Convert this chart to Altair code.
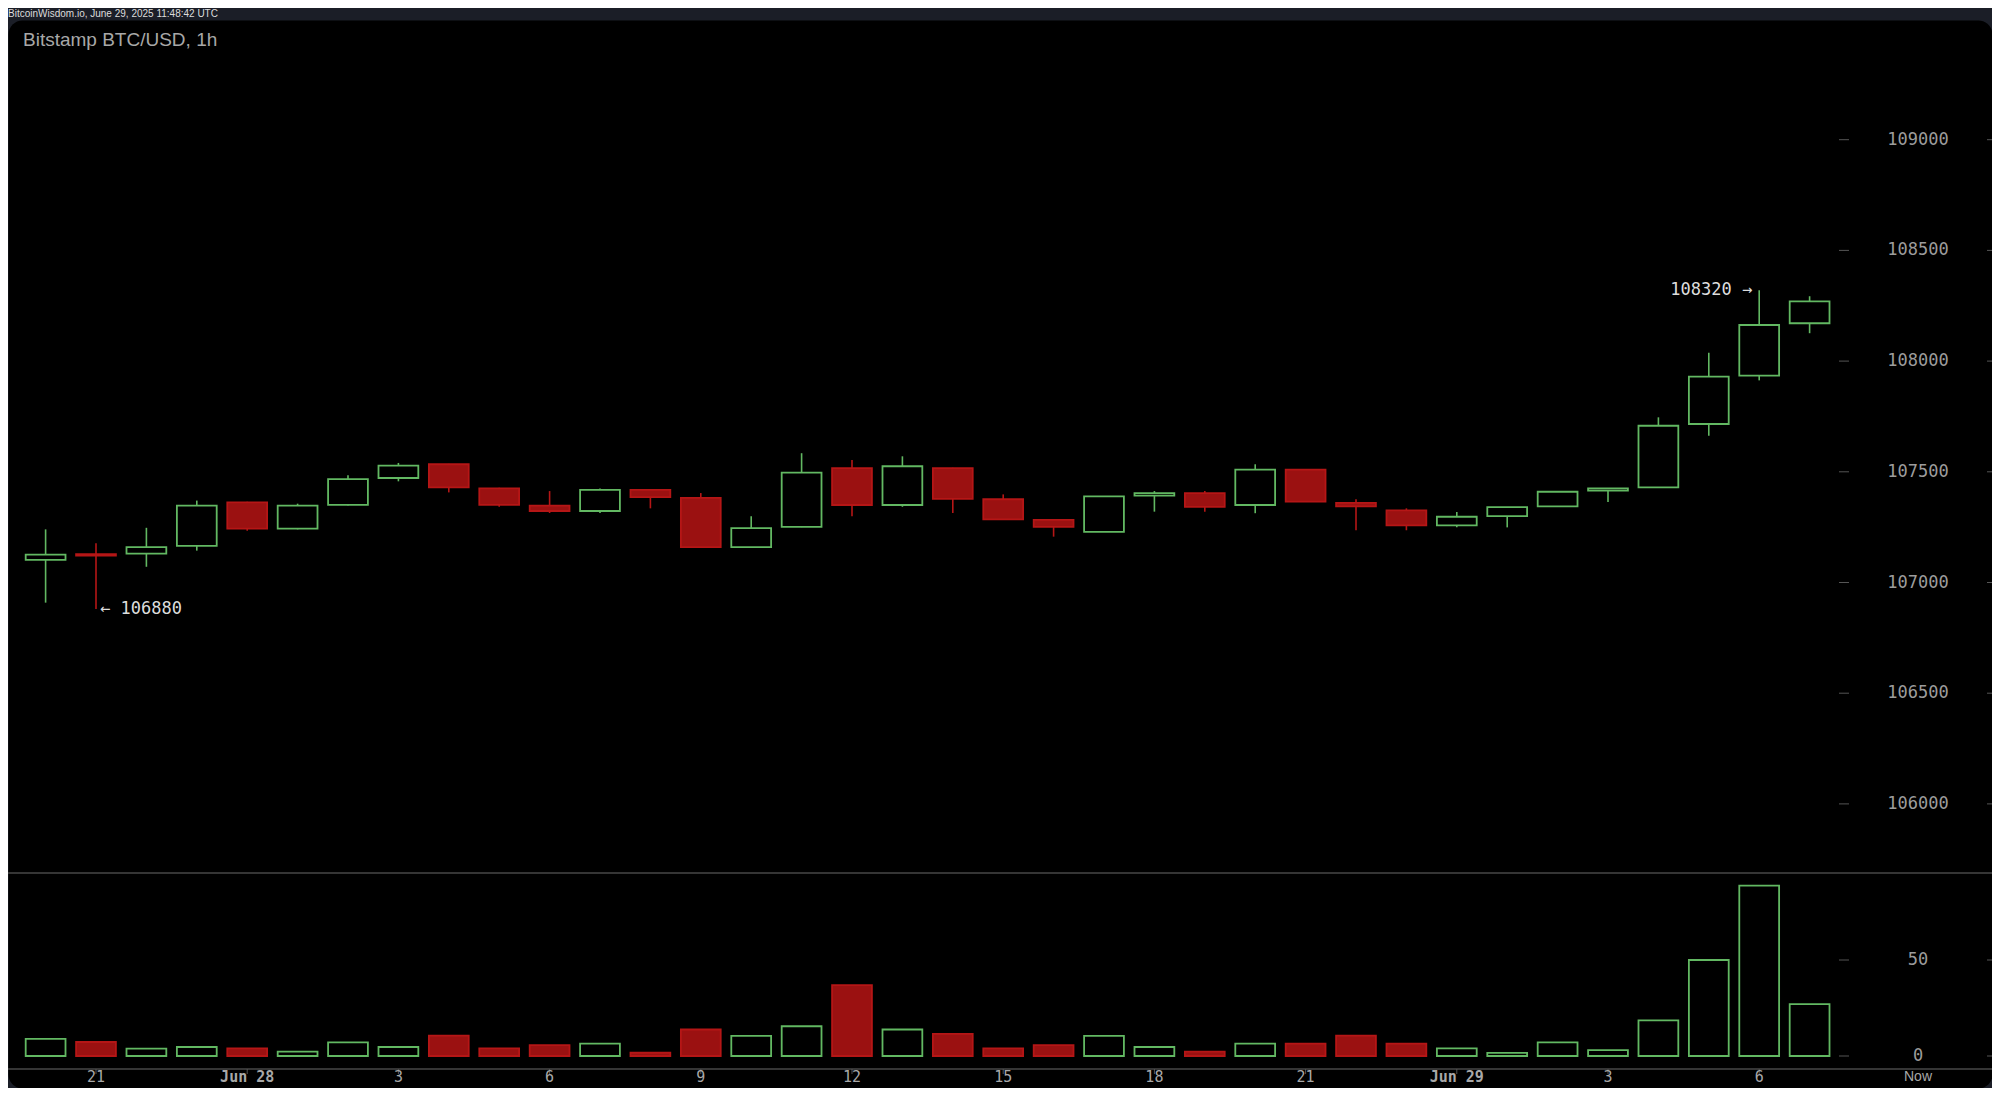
import altair as alt
import pandas as pd

# ---------------- data (hourly candles, Jun 27 20:00 -> Jun 29 07:00 UTC) ----------------
hours = list(range(36))
opens = [107102, 107128, 107130, 107165, 107362, 107243, 107351, 107472, 107534, 107425,
         107347, 107323, 107418, 107382, 107160, 107251, 107517, 107350, 107517, 107376,
         107283, 107229, 107392, 107404, 107350, 107510, 107360, 107326, 107258, 107300,
         107344, 107415, 107430, 107716, 107934, 108171]
highs = [107240, 107177, 107247, 107370, 107365, 107356, 107484, 107540, 107536, 107428,
         107413, 107425, 107420, 107404, 107299, 107584, 107553, 107570, 107518, 107398,
         107285, 107389, 107413, 107413, 107534, 107510, 107376, 107335, 107318, 107340,
         107410, 107427, 107746, 108038, 108320, 108293]
lows = [106909, 106880, 107071, 107144, 107234, 107240, 107348, 107457, 107407, 107342,
        107314, 107314, 107335, 107157, 107157, 107250, 107299, 107342, 107314, 107285,
        107207, 107229, 107320, 107320, 107313, 107365, 107236, 107236, 107249, 107249,
        107344, 107364, 107430, 107663, 107913, 108126]
closes = [107126, 107122, 107160, 107347, 107243, 107347, 107467, 107528, 107430, 107351,
          107323, 107418, 107386, 107160, 107246, 107496, 107350, 107525, 107378, 107285,
          107251, 107389, 107404, 107342, 107510, 107365, 107344, 107258, 107297, 107340,
          107410, 107425, 107708, 107930, 108163, 108270]
volumes = [8.9, 7.3, 3.8, 4.7, 4.0, 2.3, 7.1, 4.7, 10.6, 4.0,
           5.7, 6.4, 1.7, 13.8, 10.5, 15.5, 36.9, 13.8, 11.5, 4.0,
           5.7, 10.5, 4.7, 2.3, 6.4, 6.4, 10.6, 6.4, 4.0, 1.6,
           7.1, 3.1, 18.6, 50.0, 88.7, 27.0]

price_ticks = [106000, 106500, 107000, 107500, 108000, 108500, 109000]
volume_ticks = [0, 50]
x_tick_pos = [1, 4, 7, 10, 13, 16, 19, 22, 25, 28, 31, 34]
x_tick_labels = ["21", "Jun 28", "3", "6", "9", "12", "15", "18", "21", "Jun 29", "3", "6"]

header_text = "BitcoinWisdom.io, June 29, 2025 11:48:42 UTC"
title_text = "Bitstamp BTC/USD, 1h"

# ---------------- styling ----------------
W, H = 1984, 1068
GREEN = "#62b862"
RED_FILL = "#9b1111"
RED_STROKE = "#b51616"
AXIS_TXT = "#9c9c9c"
TICK_C = "#555555"
MONO = "DejaVu Sans Mono"

X_SCALE = alt.Scale(domain=[-0.746, 38.619], nice=False, zero=False)
P_SCALE = alt.Scale(domain=[106000, 109000], range=[783.9, 119.7], nice=False, zero=False)
V_SCALE = alt.Scale(domain=[0, 50], range=[1036, 940], nice=False, zero=False)
FILL_SCALE = alt.Scale(domain=["up", "down"], range=["#000000", RED_FILL])
STROKE_SCALE = alt.Scale(domain=["up", "down"], range=[GREEN, RED_STROKE])

df = pd.DataFrame(dict(i=hours, open=opens, high=highs, low=lows, close=closes, vol=volumes))
df["dir"] = ["up" if c >= o else "down" for o, c in zip(opens, closes)]
df["xl"] = df["i"] - 0.395
df["xr"] = df["i"] + 0.395

base = alt.Chart(df)

wicks = base.mark_rule(strokeWidth=1.6).encode(
    x=alt.X("i:Q", scale=X_SCALE, axis=None),
    y=alt.Y("low:Q", scale=P_SCALE, axis=None),
    y2="high:Q",
    stroke=alt.Stroke("dir:N", scale=STROKE_SCALE, legend=None),
)

bodies = base.mark_rect(strokeWidth=1.8).encode(
    x=alt.X("xl:Q", scale=X_SCALE, axis=None),
    x2="xr:Q",
    y=alt.Y("open:Q", scale=P_SCALE, axis=None),
    y2="close:Q",
    fill=alt.Fill("dir:N", scale=FILL_SCALE, legend=None),
    stroke=alt.Stroke("dir:N", scale=STROKE_SCALE, legend=None),
)

vbars = base.mark_rect(strokeWidth=1.8).encode(
    x=alt.X("xl:Q", scale=X_SCALE, axis=None),
    x2="xr:Q",
    y=alt.Y("vol:Q", scale=V_SCALE, axis=None),
    y2=alt.datum(0),
    fill=alt.Fill("dir:N", scale=FILL_SCALE, legend=None),
    stroke=alt.Stroke("dir:N", scale=STROKE_SCALE, legend=None),
)

# price axis (right)
pdf = pd.DataFrame({"p": price_ticks, "label": [str(v) for v in price_ticks]})
p_labels = alt.Chart(pdf).mark_text(align="center", baseline="middle", font=MONO,
                                    fontSize=17, color=AXIS_TXT).encode(
    x=alt.value(1910), y=alt.Y("p:Q", scale=P_SCALE, axis=None), text="label:N")
p_tick_l = alt.Chart(pdf).mark_rule(color=TICK_C, strokeWidth=1).encode(
    x=alt.value(1831), x2=alt.value(1841), y=alt.Y("p:Q", scale=P_SCALE, axis=None))
p_tick_r = alt.Chart(pdf).mark_rule(color=TICK_C, strokeWidth=1).encode(
    x=alt.value(1979), x2=alt.value(1984), y=alt.Y("p:Q", scale=P_SCALE, axis=None))

# volume axis (right)
vdf = pd.DataFrame({"v": volume_ticks, "label": [str(v) for v in volume_ticks]})
v_labels = alt.Chart(vdf).mark_text(align="center", baseline="middle", font=MONO,
                                    fontSize=17, color=AXIS_TXT).encode(
    x=alt.value(1910), y=alt.Y("v:Q", scale=V_SCALE, axis=None), text="label:N")
v_tick_l = alt.Chart(vdf).mark_rule(color=TICK_C, strokeWidth=1).encode(
    x=alt.value(1831), x2=alt.value(1841), y=alt.Y("v:Q", scale=V_SCALE, axis=None))
v_tick_r = alt.Chart(vdf).mark_rule(color=TICK_C, strokeWidth=1).encode(
    x=alt.value(1979), x2=alt.value(1984), y=alt.Y("v:Q", scale=V_SCALE, axis=None))

# time axis (bottom)
XLAB_Y = 1057
xdf = pd.DataFrame({"i": x_tick_pos, "label": x_tick_labels})
xdf["day"] = xdf["label"].str.startswith("Jun")
x_hour_labels = alt.Chart(xdf[~xdf["day"]]).mark_text(
    baseline="middle", font=MONO, fontSize=15, color="#a8a8a8").encode(
    x=alt.X("i:Q", scale=X_SCALE, axis=None), y=alt.value(XLAB_Y), text="label:N")
x_day_labels = alt.Chart(xdf[xdf["day"]]).mark_text(
    baseline="middle", font=MONO, fontSize=15, fontWeight="bold", color="#a8a8a8").encode(
    x=alt.X("i:Q", scale=X_SCALE, axis=None), y=alt.value(XLAB_Y), text="label:N")
x_ticks = alt.Chart(xdf).mark_rule(color=TICK_C, strokeWidth=1).encode(
    x=alt.X("i:Q", scale=X_SCALE, axis=None), y=alt.value(1049), y2=alt.value(1054))
now_label = alt.Chart(pd.DataFrame({"t": ["Now"]})).mark_text(
    baseline="middle", font="Liberation Sans", fontSize=14, color="#a8a8a8").encode(
    x=alt.value(1910), y=alt.value(XLAB_Y), text="t:N")

# panel separators
sep_df = pd.DataFrame({"k": ["a"]})
sep_mid = alt.Chart(sep_df).mark_rule(color="#474747", strokeWidth=1.5).encode(
    x=alt.value(0), x2=alt.value(W), y=alt.value(853))
sep_bot = alt.Chart(sep_df).mark_rule(color="#474747", strokeWidth=1.5).encode(
    x=alt.value(0), x2=alt.value(W), y=alt.value(1049))

# titles
header = alt.Chart(pd.DataFrame({"t": [header_text]})).mark_text(
    align="left", baseline="middle", font="Liberation Sans", fontSize=10, color="#dcdcdc").encode(
    x=alt.value(0), y=alt.value(-6), text="t:N")
title = alt.Chart(pd.DataFrame({"t": [title_text]})).mark_text(
    align="left", baseline="middle", font="Liberation Sans", fontSize=19, color="#a8a8a8").encode(
    x=alt.value(15), y=alt.value(20), text="t:N")

# high / low annotations
i_lo = lows.index(min(lows))
i_hi = highs.index(max(highs))
lo_df = pd.DataFrame({"i": [i_lo], "p": [lows[i_lo]], "t": ["\u2190 " + str(lows[i_lo])]})
hi_df = pd.DataFrame({"i": [i_hi], "p": [highs[i_hi]], "t": [str(highs[i_hi]) + " \u2192"]})
lo_ann = alt.Chart(lo_df).mark_text(align="left", baseline="middle", dx=4, font=MONO,
                                    fontSize=17, color="#dddddd").encode(
    x=alt.X("i:Q", scale=X_SCALE, axis=None), y=alt.Y("p:Q", scale=P_SCALE, axis=None), text="t:N")
hi_ann = alt.Chart(hi_df).mark_text(align="right", baseline="middle", dx=-7, font=MONO,
                                    fontSize=17, color="#dddddd").encode(
    x=alt.X("i:Q", scale=X_SCALE, axis=None), y=alt.Y("p:Q", scale=P_SCALE, axis=None), text="t:N")

chart = alt.layer(
    sep_mid, sep_bot, wicks, bodies, vbars,
    p_tick_l, p_tick_r, p_labels, v_tick_l, v_tick_r, v_labels,
    x_ticks, x_hour_labels, x_day_labels, now_label,
    header, title, lo_ann, hi_ann,
).resolve_scale(y="independent").properties(
    width=W, height=H,
    autosize=alt.AutoSizeParams(type="none"),
    padding={"left": 0, "top": 12, "right": 0, "bottom": 0},
    background="#1b1e27",
).configure_view(fill="#000000", stroke="transparent", cornerRadius=14)

chart.save("out.html", embed_options={"renderer": "svg", "actions": False})
